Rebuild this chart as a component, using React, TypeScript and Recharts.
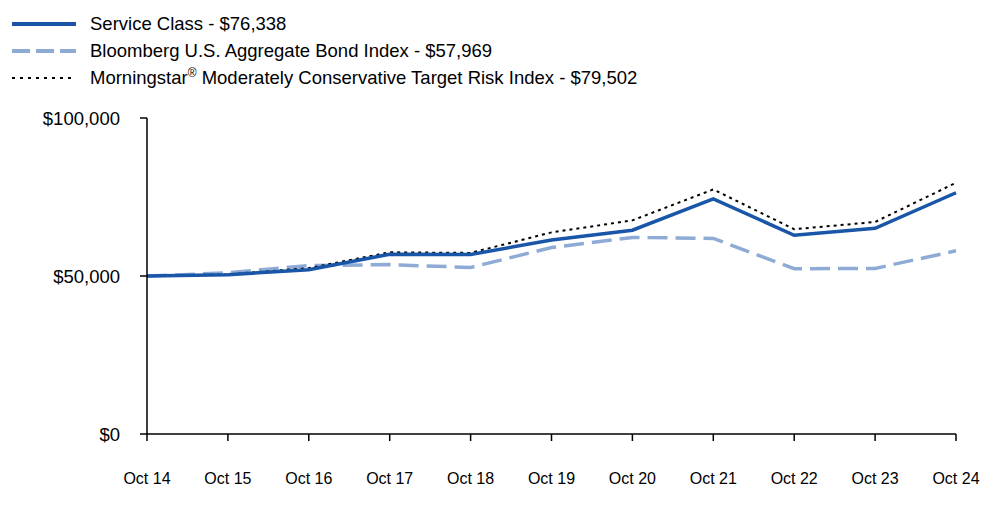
import { LineChart, Line, XAxis, YAxis } from 'recharts';

const years = ['Oct 14', 'Oct 15', 'Oct 16', 'Oct 17', 'Oct 18', 'Oct 19', 'Oct 20', 'Oct 21', 'Oct 22', 'Oct 23', 'Oct 24'];
const serviceClass = [50000, 50400, 52000, 56900, 56800, 61400, 64500, 74400, 62900, 65100, 76338];
const bloomberg = [50000, 51000, 53300, 53600, 52700, 59000, 62200, 61900, 52300, 52400, 57969];
const morningstar = [50000, 50500, 52500, 57500, 57300, 63800, 67600, 77400, 64800, 67100, 79502];
const yTicks = [0, 50000, 100000];

const data = years.map((year, i) => ({
  year,
  service: serviceClass[i],
  bloomberg: bloomberg[i],
  morningstar: morningstar[i],
}));

const FONT = 'Liberation Sans, Arial, sans-serif';

const legendItems = [
  { label: 'Service Class - $76,338', color: '#1a56a8', width: 4, dash: undefined as string | undefined },
  { label: 'Bloomberg U.S. Aggregate Bond Index - $57,969', color: '#8eabd6', width: 4, dash: '18 6' },
  { label: 'Morningstar', sup: '®', rest: ' Moderately Conservative Target Risk Index - $79,502', color: '#000', width: 2, dash: '3 5' },
];

function ChartLegend() {
  return (
    <div style={{ position: 'absolute', left: 0, top: 10, fontFamily: FONT, fontSize: 18.5, color: '#000', lineHeight: '27px' }}>
      {legendItems.map((item) => (
        <div key={item.label} style={{ display: 'flex', alignItems: 'center', height: 27 }}>
          <svg width={78} height={10} style={{ marginLeft: 12 }}>
            <line x1={0} y1={5} x2={64} y2={5} stroke={item.color} strokeWidth={item.width} strokeDasharray={item.dash} />
          </svg>
          <span>
            {item.label}
            {item.sup && <sup style={{ fontSize: 12, lineHeight: 0 }}>{item.sup}</sup>}
            {item.rest}
          </span>
        </div>
      ))}
    </div>
  );
}

const fmt = (v: number) => '$' + v.toLocaleString('en-US');

export default function App() {
  return (
    <div style={{ position: 'absolute', left: 0, top: 0, width: 1000, height: 523, background: '#fff' }}>
      <LineChart width={1000} height={523} data={data} margin={{ top: 118, right: 44, bottom: 29, left: 0 }}>
        <XAxis
          dataKey="year"
          height={60}
          stroke="#000"
          strokeWidth={1.5}
          tickSize={7}
          tickMargin={32}
          tick={{ fill: '#000', fontSize: 16, fontFamily: FONT }}
          interval={0}
        />
        <YAxis
          width={147}
          domain={[0, 100000]}
          ticks={yTicks}
          stroke="#000"
          strokeWidth={1.5}
          tickSize={7}
          tickMargin={20}
          tickFormatter={fmt}
          tick={{ fill: '#000', fontSize: 18.5, fontFamily: FONT }}
        />
        <Line type="linear" dataKey="bloomberg" stroke="#8eabd6" strokeWidth={3.5} strokeDasharray="20 8" dot={false} isAnimationActive={false} />
        <Line type="linear" dataKey="morningstar" stroke="#000" strokeWidth={2} strokeDasharray="3 4" dot={false} isAnimationActive={false} />
        <Line type="linear" dataKey="service" stroke="#1a56a8" strokeWidth={3.5} dot={false} isAnimationActive={false} />
      </LineChart>
      <ChartLegend />
    </div>
  );
}
